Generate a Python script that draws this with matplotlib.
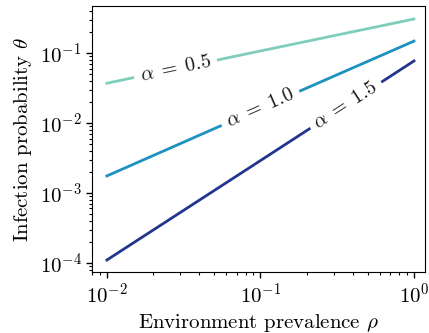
import numpy as np
import matplotlib
matplotlib.use('Agg')
import matplotlib.pyplot as plt

plt.rcParams['font.family'] = 'serif'
plt.rcParams['font.serif'] = ['cmr10']
plt.rcParams['mathtext.fontset'] = 'cm'
plt.rcParams['axes.formatter.use_mathtext'] = True

rho = [0.01, 0.1, 1.0]
alphas = [0.5, 1.0, 1.5]
theta_05 = [0.037, 0.107, 0.306]
theta_10 = [0.00175, 0.0162, 0.148]
theta_15 = [1.1e-4, 0.0029, 0.077]
colors = ['#7fcdbb', '#1d91c0', '#22358f']
label_rho = [0.028, 0.1, 0.36]

fig = plt.figure(figsize=(4.29, 3.33), dpi=100)
ax = fig.add_axes([0.2145, 0.183, 0.7762, 0.799])

for a, th, c, lx in zip(alphas, [theta_05, theta_10, theta_15], colors, label_rho):
    ax.plot(rho, th, color=c, lw=2, zorder=2)
    ly = 10 ** np.interp(np.log10(lx), np.log10(rho), np.log10(th))
    ax.text(lx, ly, r'$\alpha\;=\;%.1f$' % a, fontsize=14.5, ha='center', va='center',
            color='#1a1a1a', zorder=3,
            bbox=dict(facecolor='white', edgecolor='none', pad=4.5))

ax.set_xscale('log')
ax.set_yscale('log')
ax.set_xlim(0.008, 1.18)
ax.set_ylim(7.4e-5, 0.47)
ax.set_xticks([0.01, 0.1, 1])
ax.set_yticks([1e-4, 1e-3, 1e-2, 1e-1])
ax.tick_params(labelsize=15, length=4, width=1)
ax.tick_params(which='minor', length=2.5, width=0.8)
ax.set_xlabel(r'Environment prevalence $\rho$', fontsize=15)
ax.set_ylabel(r'Infection probability $\theta$', fontsize=15)

# rotate labels along the lines
fig.canvas.draw()
for t, th in zip(ax.texts, [theta_05, theta_10, theta_15]):
    p0 = ax.transData.transform((rho[0], th[0]))
    p1 = ax.transData.transform((rho[-1], th[-1]))
    t.set_rotation(np.degrees(np.arctan2(p1[1] - p0[1], p1[0] - p0[0])))
    t.set_rotation_mode('anchor')

fig.savefig('out.png', dpi=100)
